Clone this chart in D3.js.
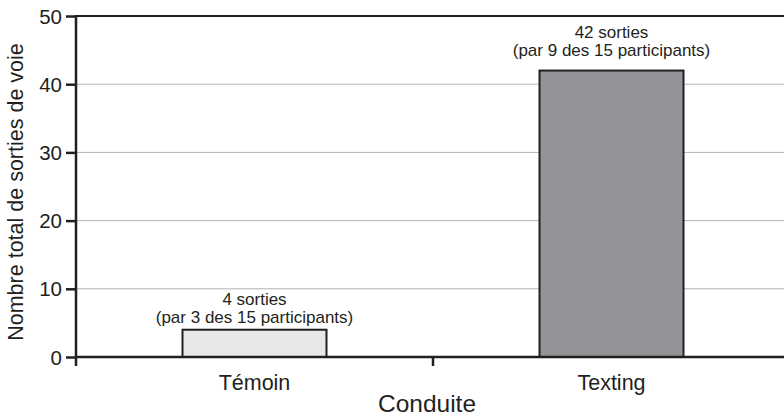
<!DOCTYPE html>
<html><head><meta charset="utf-8">
<script src="https://cdn.jsdelivr.net/npm/d3@7"></script>
<style>html,body{margin:0;padding:0;background:#fff;}svg{display:block;font-family:"Liberation Sans",Arial,sans-serif;}</style>
</head><body>
<svg id="c" width="784" height="419"></svg>
<script>
const categories = ["Témoin", "Texting"];
const values = [4, 42];
const annotationLine1 = ["4 sorties", "42 sorties"];
const annotationLine2 = ["(par 3 des 15 participants)", "(par 9 des 15 participants)"];
const fills = ["#e6e7e8", "#929497"];
const yTicks = [0, 10, 20, 30, 40, 50];
const yTitle = "Nombre total de sorties de voie";
const xTitle = "Conduite";

(function () {
const svg = d3.select("#c");
const ink = "#231f20";
const FONT = "'Liberation Sans',Arial,sans-serif";
const mLeft = 76, mRight = 790, mTop = 16, mBottom = 357;
const x = d3.scaleBand().domain(categories).range([mLeft, mRight]).paddingInner(0).paddingOuter(0);
const y = d3.scaleLinear().domain([0, 50]).range([mBottom, mTop]);
const barW = 144;
const labelGap = [7, 15];

// gridlines
svg.append("g").selectAll("line").data(yTicks.filter(d => d > 0 && d < 50)).join("line")
  .attr("x1", mLeft).attr("x2", 784).attr("y1", d => y(d)).attr("y2", d => y(d))
  .attr("stroke", "#b3b3b3").attr("stroke-width", 1);

// top line
svg.append("line").attr("x1", mLeft).attr("x2", 784).attr("y1", y(50)).attr("y2", y(50))
  .attr("stroke", ink).attr("stroke-width", 2);

// bars
svg.append("g").selectAll("rect").data(categories).join("rect")
  .attr("x", d => x(d) + x.bandwidth() / 2 - barW / 2)
  .attr("width", barW)
  .attr("y", (d, i) => y(values[i]))
  .attr("height", (d, i) => y(0) - y(values[i]))
  .attr("fill", (d, i) => fills[i])
  .attr("stroke", ink).attr("stroke-width", 2);

// y axis
const ya = svg.append("g").attr("transform", `translate(${mLeft},0)`)
  .call(d3.axisLeft(y).tickValues(yTicks).tickSize(10).tickPadding(4));
ya.select(".domain").remove();
ya.selectAll(".tick line").attr("stroke", ink).attr("stroke-width", 2.5);
ya.selectAll(".tick text").attr("fill", ink).attr("font-size", 20.5).attr("font-family", FONT).attr("dy", "0.35em");
svg.append("line").attr("x1", mLeft).attr("x2", mLeft).attr("y1", mTop - 1).attr("y2", mBottom + 9)
  .attr("stroke", ink).attr("stroke-width", 2.5);

// x axis baseline
svg.append("line").attr("x1", mLeft).attr("x2", 784).attr("y1", mBottom).attr("y2", mBottom)
  .attr("stroke", ink).attr("stroke-width", 2.5);
// x ticks at band boundaries
svg.append("g").selectAll("line").data(categories.slice(1)).join("line")
  .attr("x1", d => x(d)).attr("x2", d => x(d)).attr("y1", mBottom).attr("y2", mBottom + 9)
  .attr("stroke", ink).attr("stroke-width", 2.5);
// category labels
svg.append("g").selectAll("text").data(categories).join("text")
  .attr("x", d => x(d) + x.bandwidth() / 2).attr("y", 390)
  .attr("text-anchor", "middle").attr("font-size", 21.5).attr("fill", ink).text(d => d);

// annotations
categories.forEach((c, i) => {
  const cx = x(c) + x.bandwidth() / 2;
  const ty = y(values[i]) - labelGap[i];
  svg.append("text").attr("x", cx).attr("y", ty - 17.5).attr("text-anchor", "middle")
    .attr("font-size", 17).attr("fill", ink).text(annotationLine1[i]);
  svg.append("text").attr("x", cx).attr("y", ty).attr("text-anchor", "middle")
    .attr("font-size", 17).attr("fill", ink).text(annotationLine2[i]);
});

// titles
svg.append("text").attr("x", 427).attr("y", 412).attr("text-anchor", "middle")
  .attr("font-size", 24.5).attr("fill", ink).text(xTitle);
svg.append("text").attr("transform", `translate(23,192) rotate(-90)`).attr("text-anchor", "middle")
  .attr("font-size", 21.5).attr("fill", ink).text(yTitle);
})();
</script>
</body></html>
